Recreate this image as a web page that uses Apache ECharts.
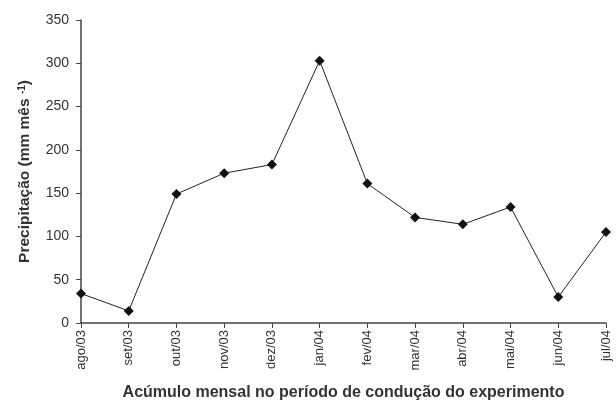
<!DOCTYPE html>
<html><head><meta charset="utf-8">
<script src="https://cdn.jsdelivr.net/npm/echarts@6/dist/echarts.min.js"></script>
<style>html,body{margin:0;padding:0;background:#fff}#c{width:616px;height:405px}</style>
</head><body><div id="c"></div>
<script>
const categories = ['ago/03','set/03','out/03','nov/03','dez/03','jan/04','fev/04','mar/04','abr/04','mai/04','jun/04','jul/04'];
const precip = [34, 14, 149, 173, 183, 303, 161, 122, 114, 134, 30, 105];
const yTicks = [0, 50, 100, 150, 200, 250, 300, 350];

const chart = echarts.init(document.getElementById('c'), null, {renderer:'canvas'});
const font = 'Liberation Sans, Arial, sans-serif';
chart.setOption({
  animation: false,
  grid: {left: 81, right: 10, top: 20, bottom: 82, containLabel: false, outerBoundsMode: 'none'},
  xAxis: {
    type: 'category', data: categories, boundaryGap: false,
    axisLine: {lineStyle: {color: '#444', width: 1.5}},
    axisTick: {show: true, alignWithLabel: true, length: 5, lineStyle: {color: '#444'}},
    axisLabel: {rotate: 90, color: '#333', fontSize: 13, fontFamily: font, margin: 7, interval: 0},
    name: 'Acúmulo mensal no período de condução do experimento',
    nameLocation: 'middle', nameGap: 62,
    nameTextStyle: {color: '#333', fontSize: 16, fontWeight: 'bold', fontFamily: font}
  },
  yAxis: {
    type: 'value', min: yTicks[0], max: yTicks[yTicks.length-1], interval: 50,
    splitLine: {show: false},
    axisLine: {show: true, lineStyle: {color: '#444', width: 1.5}},
    axisTick: {show: true, length: 5, lineStyle: {color: '#444'}},
    axisLabel: {color: '#333', fontSize: 14, fontFamily: font, margin: 12},
    name: '{a|Precipitação (mm mês }{s|-1}{a|)}',
    nameLocation: 'middle', nameGap: 48, nameRotate: 90,
    nameTextStyle: {
      rich: {
        a: {color: '#333', fontSize: 15.5, fontWeight: 'bold', fontFamily: font},
        s: {color: '#333', fontSize: 10, fontWeight: 'bold', fontFamily: font, verticalAlign: 'top', padding: [0,0,6,0]}
      }
    }
  },
  series: [{
    type: 'line', data: precip,
    symbol: 'diamond', symbolSize: 10,
    lineStyle: {color: '#222', width: 1},
    itemStyle: {color: '#111'}
  }]
});
</script></body></html>
